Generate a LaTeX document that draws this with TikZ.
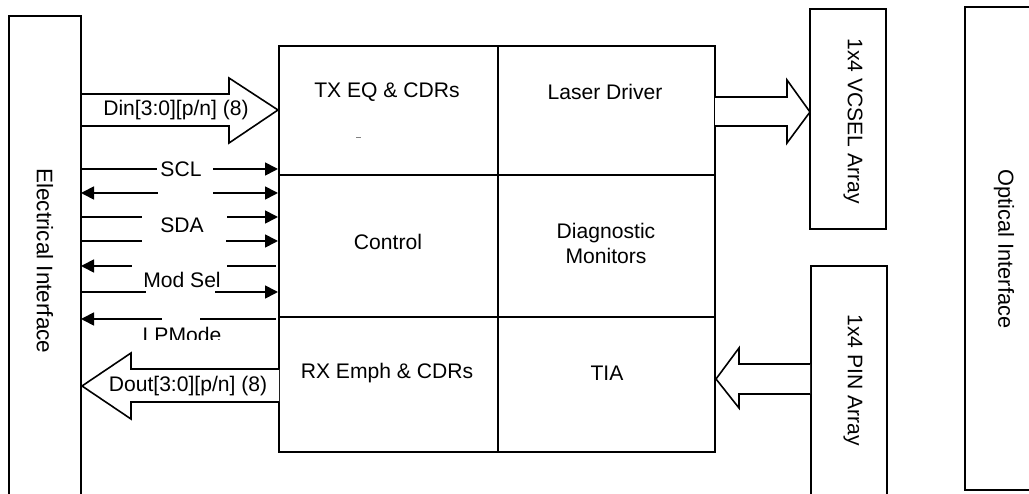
\documentclass[tikz,border=0pt]{standalone}
\usepackage{fontspec}
\setmainfont{Liberation Sans}
\usetikzlibrary{arrows.meta}
\begin{document}
\begin{tikzpicture}[x=1pt,y=-1pt,
  every node/.style={font=\fontsize{21.1}{25}\selectfont},
  ln/.style={line width=1.8pt,line join=miter},
  cell/.style={draw,line width=1.8pt,inner sep=0pt,outer sep=0pt,minimum width=#1},
  bigarrow/.style={draw,fill=white,line width=1.6pt,line join=miter},
  sig/.style={line width=1.7pt},
  tipR/.style={-{Triangle[length=13pt,width=13pt]}},
  tipL/.style={{Triangle[length=13pt,width=13pt]}-},
  lbl/.style={inner sep=0pt}]
\useasboundingbox (0,0) rectangle (1029,494);
\clip (0,0) rectangle (1029,494);

% Electrical interface box (open at bottom)
\draw[ln] (9,500) -- (9,16) -- (81,16) -- (81,500);
\node[rotate=-90,font=\fontsize{22.5}{26}\selectfont] (elec) at (45,261) {Electrical Interface};
\coordinate (L) at (81,0);
\coordinate (R) at (278,0);

% main block cells
\node[cell=219pt,minimum height=129pt] (txeq) at (388.5,110.5) {};
\node[cell=217pt,minimum height=129pt] (laser) at (606.5,110.5) {};
\node[cell=219pt,minimum height=142pt] (ctrl) at (388.5,246) {};
\node[cell=217pt,minimum height=142pt] (diag) at (606.5,246) {};
\node[cell=219pt,minimum height=135pt] (rxemph) at (388.5,384.5) {};
\node[cell=217pt,minimum height=135pt] (tia) at (606.5,384.5) {};

\node (ttx) at (387,92) {TX EQ \& CDRs};
\node (tlas) at (605,92) {Laser Driver};
\node (tctrl) at (388,242) {Control};
\node[align=center] (tdiag) at (606,243) {Diagnostic\\Monitors};
\node (trx) at (387,373) {RX Emph \& CDRs};
\node (ttia) at (607,373) {TIA};
\draw[gray,line width=1pt] (356,138) -- (361,138);

% VCSEL / PIN / Optical
\node[cell=76pt,minimum height=220pt] (vcsel) at (848,119) {};
\node[rotate=-90] (tvcsel) at (853,121) {1x4 VCSEL Array};
\draw[ln] (811,500) -- (811,266) -- (887,266) -- (887,500);
\node[rotate=-90] (pin) at (853,380) {1x4 PIN Array};
\draw[ln] (1040,7) -- (965,7) -- (965,490) -- (1040,490);
\node[rotate=-90,font=\fontsize{21.8}{26}\selectfont] (opt) at (1004,249) {Optical Interface};

% big arrows
\draw[bigarrow] (81,94) -- (229,94) -- (229,78) -- (278,110) -- (229,143) -- (229,126) -- (81,126) -- cycle;
\node (din) at (176,110) {Din[3:0][p/n] (8)};
\draw[bigarrow] (279,369) -- (131,369) -- (131,353) -- (82,386) -- (131,419) -- (131,402) -- (279,402);
\node (dout) at (188,386) {Dout[3:0][p/n] (8)};
\draw[bigarrow] (715,97) -- (787,97) -- (787,80) -- (810,112) -- (787,143) -- (787,126) -- (715,126);
\draw[bigarrow] (810,364) -- (739,364) -- (739,348) -- (716,379) -- (739,408) -- (739,394) -- (810,394);

% control signals
\node[lbl] (scl) at (181,169) {SCL};
\node[lbl] (sda) at (182,225) {SDA};
\node[lbl] (modsel) at (182,280) {Mod Sel};
\begin{scope}
\clip (100,300) rectangle (260,340);
\node[lbl,anchor=base] (lpmode) at (182,343) {LPMode};
\end{scope}

\draw[sig] (L |- 0,169) -- (157,169);
\draw[sig,tipR] (213,169) -- (R |- 0,169);
\draw[sig,tipL] (L |- 0,193) -- (158,193);
\draw[sig,tipR] (213,193) -- (R |- 0,193);
\draw[sig] (L |- 0,217) -- (142,217);
\draw[sig,tipR] (227,217) -- (R |- 0,217);
\draw[sig] (L |- 0,241) -- (142,241);
\draw[sig,tipR] (226,241) -- (R |- 0,241);
\draw[sig,tipL] (L |- 0,266) -- (132,266);
\draw[sig] (227,266) -- (276,266);
\draw[sig] (L |- 0,292) -- (146,292);
\draw[sig,tipR] (215,292) -- (R |- 0,292);
\draw[sig,tipL] (L |- 0,319) -- (162,319);
\draw[sig] (200,319) -- (276,319);
\end{tikzpicture}
\end{document}
